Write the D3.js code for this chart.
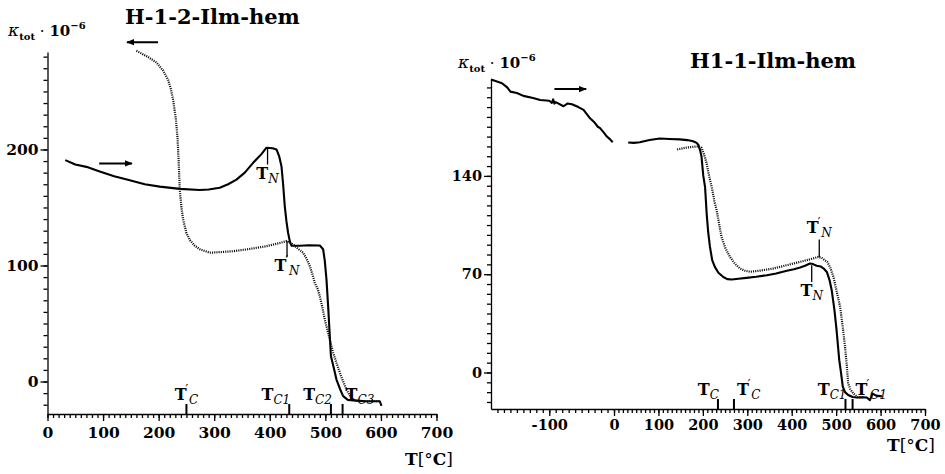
<!DOCTYPE html>
<html>
<head>
<meta charset="utf-8">
<script src="https://cdn.jsdelivr.net/npm/d3@7"></script>
<style>
  body { margin: 0; background: #fff; }
  svg { display: block; }
  text { font-family: "DejaVu Serif", serif; fill: #000; }
</style>
</head>
<body>
<svg id="chart" width="945" height="474"></svg>
<script>
// values: [T in C, kappa * 1e-6]

var leftHeating = [[32,190.8],[50,187],[70,185],[94,181],[120,177],[148,173.5],[175,170],[202,168],
  [238,166],[274,165],[290,165.5],[310,167],[325,170],[340,174],[355,180],[370,188.5],[385,196],
  [394,201.5],[405,201],[412,200],[417,194],[421,185.6],[424,170],[427,151],[430,138],[433,128],
  [436,121],[439,117],[454,117],[470,117.5],[490,117.2],[496,114],[499,104],[502,88],[505,65],
  [508,39],[510,22],[515,12],[520,1.7],[526,-6],[532,-12.6],[541,-16],[555,-16.5],[574,-17],
  [590,-17],[598,-17],[601,-21]];

var leftCooling = [[160,285],[180,280],[196,275],[208,268],[217,260],[222,252],[226,243],[231,226],
  [234,210],[236,190],[238,165.5],[241,150],[244,140],[250,128],[256,122],[265,117],[274,114],
  [292,111],[310,111.5],[334,112.3],[360,114],[394,116.6],[415,119],[430,121],[442,118],[452,114],
  [460,111],[466,106],[472,99.4],[477,92],[481,85],[486,80],[490,73.5],[495,63],[499,53.4],
  [504,44],[508,36],[514,25],[520,16],[528,5],[538,-7],[544,-12],[550,-15.5],[560,-17],[580,-17],[598,-17]];

var rightHeatingLow = [[-190,208.7],[-183,207.5],[-173,206],[-165,203],[-160,200],[-150,199],
  [-140,197],[-125,195.5],[-114,194],[-100,193.5],[-96,192],[-94,194.5],[-92,191.5],[-90,192.5],
  [-78,189.6],[-72,191.5],[-65,191],[-55,189],[-47,187],[-42,184],[-37,181],[-30,178],[-25,175],
  [-21.5,174],[-16,171],[-11,168],[-6,166],[-2,164]];

var rightHeatingHigh = [[32,163.8],[45,163.5],[58,164],[80,165.5],[103,166.6],[125,166.3],[148,166],
  [165,165.5],[178,164.7],[186,163.5],[190,162],[194,158],[197,153.6],[201,140],[205,132],[208.6,113],
  [212,100],[216,89.4],[221,80],[227,75.2],[235,71],[246,68],[255,66.5],[265,66.2],[280,66.8],
  [298,67.4],[320,68.2],[344,69.3],[365,70.5],[389,72.4],[405,73.5],[419,74.8],[430,76],[441,77.6],
  [448,77.2],[456,76],[465,75.5],[472,74],[479,71.6],[485,66],[490,58.6],[496,45],[501,30],
  [507,8.8],[510,2],[515,-10],[520,-14],[527,-16],[537,-17.5],[546,-17.8],[560,-17.6],[569,-17.8],
  [576,-19.7],[582,-15],[590,-16.5],[603,-17]];

var rightCooling = [[142,158.8],[160,160],[178,160.7],[190,161],[197,160],[203,155],[208.6,148.9],
  [214,140],[220,132],[226,122],[231,115.6],[237,105],[242,96.6],[250,89],[261,82.3],[272,77.5],
  [284,74],[295,72.5],[306,71.7],[330,72.6],[358,74],[390,76.5],[419,78.8],[440,80.5],[460,82.3],
  [468,81.5],[474,80],[480,78.8],[487,74.5],[494,68],[501,58],[509,46.7],[515,32],[520,18.2],
  [524,5],[527,-7.8],[532,-12],[539,-15],[548,-17.5],[560,-17.5]];

var leftXTicks = [0,100,200,300,400,500,600,700];
var leftYTicks = [0,100,200];
var rightXTicks = [-100,0,100,200,300,400,500,600,700];
var rightYTicks = [0,70,140];

// transition temperatures marked on the x axis
var leftMarks = [
  {t:250, sub:"C", prime:true, anchor:"middle"},
  {t:435, sub:"C1", prime:false, anchor:"end"},
  {t:510, sub:"C2", prime:false, anchor:"end"},
  {t:531, sub:"C3", prime:false, anchor:"start"}
];
var rightMarks = [
  {t:234, sub:"C", prime:false, anchor:"end"},
  {t:270, sub:"C", prime:true, anchor:"start"},
  {t:521, sub:"C1", prime:false, anchor:"end"},
  {t:537, sub:"C1", prime:true, anchor:"start"}
];
// Neel points: T, kappa at both ends of the stroke
var leftNeel = [
  {t:396, k1:201.7, k2:187, prime:false, below:true},
  {t:431, k1:121, k2:107, prime:true, below:true}
];
var rightNeel = [
  {t:445, k1:76.4, k2:64.5, prime:false, below:true},
  {t:462, k1:94.7, k2:82.3, prime:true, below:false}
];
// direction arrows: [T start, T end, kappa]
var leftArrows = [[199,143,292.5],[93,152,188]];
var rightArrows = [[-92,-43,201.8]];

var svg = d3.select("#chart");
var defs = svg.append("defs");

drawPanel({
  x: d3.scaleLinear().domain([0,700]).range([47.5,436.5]),
  y: d3.scaleLinear().domain([-28,284]).range([414,52]),
  xMinor: d3.range(0,701,10), xMajor: leftXTicks,
  yMinor: d3.range(-20,281,10), yMajor: leftYTicks,
  xLabPad: 6, labSize: 15.5,
  lines: [{d:leftHeating, dotted:false}, {d:leftCooling, dotted:true}],
  marks: leftMarks, markBase: 400,
  neel: leftNeel, arrows: leftArrows,
  title: "H-1-2-Ilm-hem", titleX: 125, titleY: 24,
  kappaX: 8, kappaY: 36,
  tX: 405, tY: 465
});

drawPanel({
  x: d3.scaleLinear().domain([-190,0,700]).range([491,614,925]),
  y: d3.scaleLinear().domain([-26,209]).range([409,79]),
  xMinor: d3.range(-180,701,10), xMajor: rightXTicks,
  yMinor: d3.range(-21,209,7), yMajor: rightYTicks,
  xLabPad: 4, labSize: 14.5,
  lines: [{d:rightHeatingLow, dotted:false}, {d:rightHeatingHigh, dotted:false}, {d:rightCooling, dotted:true}],
  marks: rightMarks, markBase: 395,
  neel: rightNeel, arrows: rightArrows,
  title: "H1-1-Ilm-hem", titleX: 690, titleY: 68,
  kappaX: 458, kappaY: 68,
  tX: 887, tY: 451
});

function drawPanel(c) {
  var g = svg.append("g");
  var x = c.x, y = c.y;
  var x0 = x.range()[0], y0 = y.range()[0];

  // minor ticks
  g.append("g").attr("transform", "translate(0," + y0 + ")")
    .call(d3.axisBottom(x).tickValues(c.xMinor).tickSize(4).tickFormat(""))
    .call(function(s) { s.select(".domain").remove(); });
  g.append("g").attr("transform", "translate(" + x0 + ",0)")
    .call(d3.axisLeft(y).tickValues(c.yMinor).tickSize(4).tickFormat(""))
    .call(function(s) { s.select(".domain").remove(); });

  // major ticks + labels
  g.append("g").attr("transform", "translate(0," + y0 + ")")
    .call(d3.axisBottom(x).tickValues(c.xMajor).tickSize(7).tickSizeOuter(0).tickPadding(c.xLabPad)
      .tickFormat(function(d) { return d < 0 ? "-" + Math.abs(d) : d; }));
  g.append("g").attr("transform", "translate(" + x0 + ",0)")
    .call(d3.axisLeft(y).tickValues(c.yMajor).tickSize(7).tickSizeOuter(0).tickPadding(2));
  g.selectAll(".tick line, .domain").attr("stroke", "#000").attr("stroke-width", 1.3);
  g.selectAll(".tick text").attr("font-family", "DejaVu Serif").attr("font-weight", "bold")
    .attr("font-size", c.labSize).attr("fill", "#000");

  // curves
  var line = d3.line().x(function(d) { return x(d[0]); }).y(function(d) { return y(d[1]); });
  c.lines.forEach(function(l) {
    g.append("path").datum(l.d).attr("d", line)
      .attr("fill", "none")
      .attr("stroke", l.dotted ? "#111" : "#000")
      .attr("stroke-width", l.dotted ? 2.2 : 2.1)
      .attr("stroke-dasharray", l.dotted ? "1.1,1.1" : null)
      .attr("stroke-linejoin", "round");
  });

  // Tc marks on the x axis
  c.marks.forEach(function(m) {
    var px = x(m.t);
    g.append("line").attr("x1", px).attr("x2", px).attr("y1", y0).attr("y2", y0 - 10)
      .attr("stroke", "#000").attr("stroke-width", 2);
    var dx = m.anchor == "start" ? 3 : (m.anchor == "end" ? 1 : 0);
    tLabel(g, px + dx, c.markBase, m.sub, m.prime, m.anchor);
  });

  // Neel points
  c.neel.forEach(function(n) {
    var px = x(n.t);
    g.append("line").attr("x1", px).attr("x2", px).attr("y1", y(n.k1)).attr("y2", y(n.k2))
      .attr("stroke", "#000").attr("stroke-width", 1.3);
    var by = n.below ? y(n.k2) + 14 : y(n.k1) - 7;
    tLabel(g, px, by, "N", n.prime, "middle");
  });

  // arrows
  c.arrows.forEach(function(a, i) {
    var id = "ah" + Math.round(x0) + "_" + i;
    defs.append("marker").attr("id", id)
      .attr("viewBox", "0 0 10 10").attr("refX", 9).attr("refY", 5)
      .attr("markerWidth", 4).attr("markerHeight", 4).attr("orient", "auto")
      .append("path").attr("d", "M0,1 L10,5 L0,9 Z").attr("fill", "#000");
    g.append("line").attr("x1", x(a[0])).attr("x2", x(a[1])).attr("y1", y(a[2])).attr("y2", y(a[2]))
      .attr("stroke", "#000").attr("stroke-width", 2).attr("marker-end", "url(#" + id + ")");
  });

  // title
  g.append("text").attr("x", c.titleX).attr("y", c.titleY)
    .attr("font-weight", "bold").attr("font-size", 21).text(c.title);

  // y label
  var k = g.append("text").attr("x", c.kappaX).attr("y", c.kappaY).attr("font-size", 15);
  k.append("tspan").attr("font-style", "italic").attr("font-size", 17).text("κ");
  k.append("tspan").attr("dy", 4).attr("font-size", 10).attr("font-weight", "bold").text("tot");
  k.append("tspan").attr("dy", -4).attr("font-size", 15).text(" · ");
  k.append("tspan").attr("font-weight", "bold").text("10");
  k.append("tspan").attr("dy", -7).attr("font-size", 10).attr("font-weight", "bold").text("−6");

  // x label
  var t = g.append("text").attr("x", c.tX).attr("y", c.tY).attr("font-size", 17);
  t.append("tspan").attr("font-weight", "bold").text("T");
  t.append("tspan").text("[°");
  t.append("tspan").attr("font-weight", "bold").text("C");
  t.append("tspan").text("]");
}

// bold T with italic subscript and optional prime set above the subscript
function tLabel(g, px, by, sub, prime, anchor) {
  var lg = g.append("g");
  var tt = lg.append("text").attr("x", 0).attr("y", 0)
    .attr("font-weight", "bold").attr("font-size", 16).text("T");
  var tw = tt.node().getComputedTextLength();
  if (prime) {
    lg.append("text").attr("x", tw - 1).attr("y", -6)
      .attr("font-size", 12).text("′");
  }
  var st = lg.append("text").attr("x", tw + (prime ? 2.5 : 0)).attr("y", 4)
    .attr("font-size", 12).attr("font-style", "italic").attr("fill", "#333").text(sub);
  var w = tw + (prime ? 2.5 : 0) + st.node().getComputedTextLength();
  var off = anchor == "middle" ? -w / 2 : (anchor == "end" ? -w : 0);
  lg.attr("transform", "translate(" + (px + off) + "," + by + ")");
}
</script>
</body>
</html>
